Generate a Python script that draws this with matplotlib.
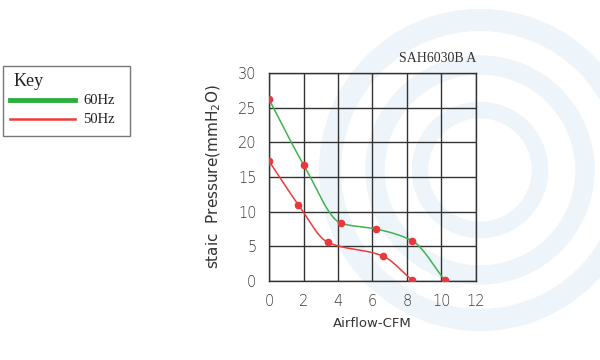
import numpy as np
import matplotlib.pyplot as plt
from matplotlib.patches import Rectangle, Circle

# Datos
flujo_60 = [0.0, 2.0, 4.2, 6.2, 8.3, 10.2]
presion_60 = [26.2, 16.8, 8.3, 7.5, 5.8, 0.1]
flujo_50 = [0.0, 1.7, 3.4, 6.6, 8.3]
presion_50 = [17.3, 11.0, 5.6, 3.6, 0.1]
x_ticks = [0, 2, 4, 6, 8, 10, 12]
y_ticks = [0, 5, 10, 15, 20, 25, 30]


def curva_suave(x, y, n=200):
    # cubica monotona (Fritsch-Carlson) solo para dibujar la linea
    x = np.asarray(x, float)
    y = np.asarray(y, float)
    h = np.diff(x)
    d = np.diff(y) / h
    m = np.zeros_like(y)
    m[0], m[-1] = d[0], d[-1]
    for i in range(1, len(x) - 1):
        if d[i - 1] * d[i] > 0:
            w1 = 2 * h[i] + h[i - 1]
            w2 = h[i] + 2 * h[i - 1]
            m[i] = (w1 + w2) / (w1 / d[i - 1] + w2 / d[i])
    xs = np.linspace(x[0], x[-1], n)
    k = np.clip(np.searchsorted(x, xs) - 1, 0, len(x) - 2)
    t = (xs - x[k]) / h[k]
    h00 = 2 * t**3 - 3 * t**2 + 1
    h10 = t**3 - 2 * t**2 + t
    h01 = -2 * t**3 + 3 * t**2
    h11 = t**3 - t**2
    ys = h00 * y[k] + h10 * h[k] * m[k] + h01 * y[k + 1] + h11 * h[k] * m[k + 1]
    return xs, ys


fig = plt.figure(figsize=(6, 3.6), dpi=100)

# marca de agua de fondo (en pixeles, para que sean circulos)
bg = fig.add_axes([0, 0, 1, 1], zorder=-5)
bg.set_xlim(0, 600)
bg.set_ylim(360, 0)
bg.axis('off')
for r, lw in [(150, 16), (105, 14), (60, 12)]:
    bg.add_patch(Circle((480, 170), r, fill=False, ec='#eef5fa', lw=lw))

ax = fig.add_axes([269 / 600, 1 - 281 / 360, 207 / 600, 208 / 360])
ax.patch.set_alpha(0)

xg, yg = curva_suave(flujo_60, presion_60)
xr, yr = curva_suave(flujo_50, presion_50)
ax.plot(xg, yg, color='#3fb34f', lw=1.1, zorder=3)
ax.plot(xr, yr, color='#ee3b3b', lw=1.1, zorder=3)
ax.plot(flujo_60, presion_60, 'o', color='#e8383d', ms=4.5, zorder=4)
ax.plot(flujo_50, presion_50, 'o', color='#e8383d', ms=4.5, zorder=4)

ax.set_xlim(0, 12)
ax.set_ylim(0, 30)
ax.set_xticks(x_ticks)
ax.set_yticks(y_ticks)
ax.grid(True, color='#333333', lw=1)
ax.tick_params(length=0, pad=9, labelsize=10.5, labelcolor='#3a3a3a')
for s in ax.spines.values():
    s.set_color('#333333')
    s.set_linewidth(1)
for lab in ax.get_xticklabels() + ax.get_yticklabels():
    lab.set_fontweight('light')

ax.set_xlabel('Airflow-CFM', fontsize=9.5, color='#333333', labelpad=6)
ax.set_ylabel('staic  Pressure(mmH$_2$O)', fontsize=11, color='#333333', labelpad=11)
ax.text(1.0, 1.04, 'SAH6030B A', transform=ax.transAxes, ha='right', va='bottom',
        fontsize=10, family='Liberation Serif', color='#333333')

# recuadro de la leyenda
fig.patches.append(Rectangle((3 / 600, 1 - 136 / 360), 127 / 600, 70 / 360,
                             transform=fig.transFigure, fill=False, ec='#777777', lw=1))
fig.text(14 / 600, 1 - 82 / 360, 'Key', fontsize=13, family='Liberation Serif',
         va='center', color='#222222')
fig.add_artist(plt.Line2D([10 / 600, 75 / 600], [1 - 100 / 360] * 2,
                          color='#2fae3f', lw=3.5, transform=fig.transFigure))
fig.add_artist(plt.Line2D([10 / 600, 75 / 600], [1 - 119 / 360] * 2,
                          color='#ee3b3b', lw=1.8, transform=fig.transFigure))
fig.text(83 / 600, 1 - 101 / 360, '60Hz', fontsize=10.5, family='Liberation Serif',
         va='center', color='#222222')
fig.text(83 / 600, 1 - 120 / 360, '50Hz', fontsize=10.5, family='Liberation Serif',
         va='center', color='#222222')

fig.savefig('out.png', dpi=100)
